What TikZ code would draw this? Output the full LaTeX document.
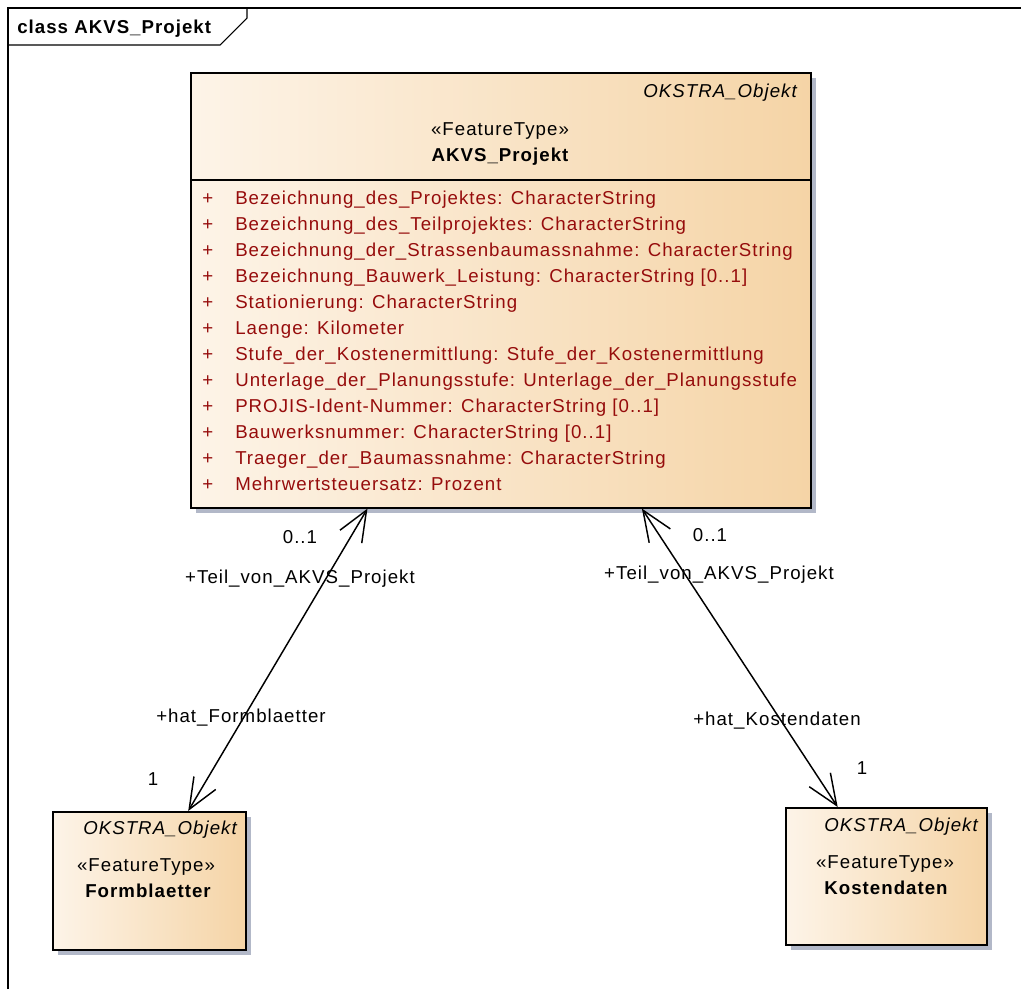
\documentclass[tikz,border=0pt]{standalone}
\usepackage{fontspec}
\setmainfont{Liberation Sans}[LetterSpace=5.5]
\usetikzlibrary{arrows.meta,calc,shadows}

\definecolor{boxleft}{RGB}{253,244,232}
\definecolor{boxright}{RGB}{245,212,166}
\definecolor{boxshadow}{RGB}{178,184,200}
\definecolor{attrred}{RGB}{150,12,12}

\tikzset{
  classbox/.style={draw=black, line width=1.2pt, rectangle, anchor=north west,
    inner sep=0pt, left color=boxleft, right color=boxright,
    drop shadow={shadow xshift=3.75pt, shadow yshift=-3.75pt,
      fill=boxshadow, opacity=1}},
  txt/.style={font=\fontsize{14}{16}\selectfont, inner sep=0pt, anchor=base},
  attr/.style={txt, anchor=base west, text=attrred},
  assoc/.style={line width=1.1pt,
    {Straight Barb[length=23pt,width=19pt]}-{Straight Barb[length=23pt,width=19pt]}}
}

\begin{document}
\begin{tikzpicture}[x=0.75pt,y=-0.75pt]
  \useasboundingbox (0,0) rectangle (1021,989);

  % frame
  \draw[line width=0.8pt] (8,989) -- (8,8) -- (1021,8);
  \draw[line width=0.8pt] (8,45) -- (220,45) -- (247,18) -- (247,8);
  \node[txt, anchor=base west, font=\fontsize{14}{16}\selectfont\bfseries] (title) at (17,33.5) {class AKVS\_Projekt};

  % classes
  \node[classbox, minimum width=465pt, minimum height=326.25pt] (proj) at (190,72) {};
  \node[classbox, minimum width=144.75pt, minimum height=103.5pt] (form) at (52,811) {};
  \node[classbox, minimum width=150.75pt, minimum height=102.75pt] (kosten) at (785,807) {};

  \draw[line width=1.2pt] ($(proj.north west)+(0,108)$) -- ($(proj.north east)+(0,108)$);

  \node[txt, anchor=base east, font=\fontsize{14}{16}\selectfont\itshape] (projsup) at (797,97.5) {OKSTRA\_Objekt};
  \node[txt] (projst) at (500,135) {«FeatureType»};
  \node[txt, font=\fontsize{14}{16}\selectfont\bfseries] (projname) at (500,161.5) {AKVS\_Projekt};

  \foreach \a [count=\i from 0] in {
      {Bezeichnung\_des\_Projektes: CharacterString},
      {Bezeichnung\_des\_Teilprojektes: CharacterString},
      {Bezeichnung\_der\_Strassenbaumassnahme: CharacterString},
      {Bezeichnung\_Bauwerk\_Leistung: CharacterString [0..1]},
      {Stationierung: CharacterString},
      {Laenge: Kilometer},
      {Stufe\_der\_Kostenermittlung: Stufe\_der\_Kostenermittlung},
      {Unterlage\_der\_Planungsstufe: Unterlage\_der\_Planungsstufe},
      {PROJIS-Ident-Nummer: CharacterString [0..1]},
      {Bauwerksnummer: CharacterString [0..1]},
      {Traeger\_der\_Baumassnahme: CharacterString},
      {Mehrwertsteuersatz: Prozent}} {
    \node[attr] (plus\i) at (202,204+26*\i) {+};
    \node[attr] (attr\i) at (235,204+26*\i) {\a};
  }

  \node[txt, anchor=base east, font=\fontsize{14}{16}\selectfont\itshape] (formsup) at (237,834.5) {OKSTRA\_Objekt};
  \node[txt] (formst) at (146,871.5) {«FeatureType»};
  \node[txt, font=\fontsize{14}{16}\selectfont\bfseries] (formname) at (148,897.5) {Formblaetter};

  \node[txt, anchor=base east, font=\fontsize{14}{16}\selectfont\itshape] (kostensup) at (978,831.5) {OKSTRA\_Objekt};
  \node[txt] (kostenst) at (885,868.5) {«FeatureType»};
  \node[txt, font=\fontsize{14}{16}\selectfont\bfseries] (kostenname) at (886,894.5) {Kostendaten};

  % associations
  \draw[assoc] ($(proj.south west)!0.2855!(proj.south east)$) -- ($(form.north west)!0.70!(form.north east)$);
  \draw[assoc] ($(proj.south west)!0.727!(proj.south east)$) -- ($(kosten.north west)!0.26!(kosten.north east)$);

  \node[txt] (lmult1) at (300,543.5) {0..1};
  \node[txt] (lrole1) at (300,583.5) {+Teil\_von\_AKVS\_Projekt};
  \node[txt] (lrole2) at (241,722.5) {+hat\_Formblaetter};
  \node[txt] (lmult2) at (153,785.5) {1};

  \node[txt] (rmult1) at (710,541.5) {0..1};
  \node[txt] (rrole1) at (719,579.5) {+Teil\_von\_AKVS\_Projekt};
  \node[txt] (rrole2) at (777,725.5) {+hat\_Kostendaten};
  \node[txt] (rmult2) at (862,774.5) {1};
\end{tikzpicture}
\end{document}
